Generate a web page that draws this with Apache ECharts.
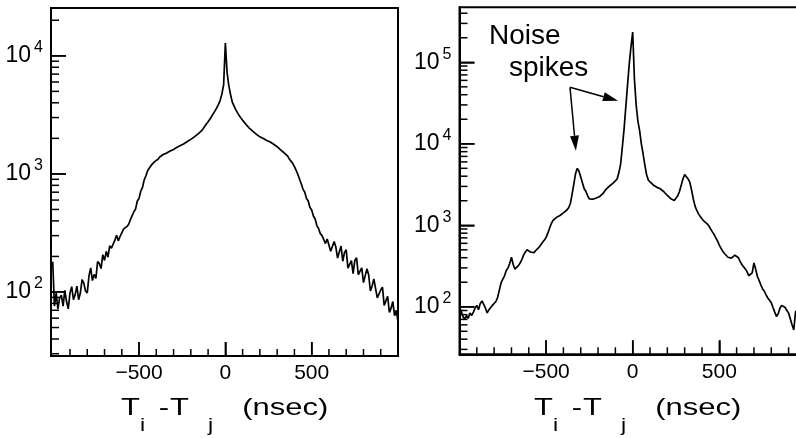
<!DOCTYPE html>
<html>
<head>
<meta charset="utf-8">
<script src="https://cdn.jsdelivr.net/npm/echarts@6/dist/echarts.min.js"></script>
<style>
  html, body { margin: 0; padding: 0; background: #fff; }
  #chart { width: 796px; height: 438px; }
  #err { position: absolute; left: 70px; top: 120px; font: 12px monospace; color: #c00; white-space: pre; }
</style>
</head>
<body>
<div id="chart"></div>
<div id="err"></div>
<script>
window.addEventListener('error', e => { document.getElementById('err').textContent += String(e.message) + '\n'; });

// Time-difference histogram bins: centres from -1000 ns in 10 ns steps
const BIN_START = -1000;
const BIN_WIDTH = 10;

// Left panel: coincidence counts per bin
const leftCounts = [
  180, 76, 98, 72, 89, 94, 76, 103, 83, 72,
  98, 111, 86, 95, 112, 86, 98, 127, 119, 102,
  98, 137, 160, 125, 141, 130, 181, 174, 158, 207,
  185, 221, 197, 246, 235, 231, 275, 302, 271, 295,
  295, 341, 328, 359, 375, 410, 425, 478, 505, 590,
  620, 715, 770, 890, 965, 1070, 1100, 1180, 1220, 1270,
  1300, 1330, 1390, 1440, 1460, 1470, 1500, 1550, 1560, 1570,
  1610, 1640, 1680, 1700, 1740, 1770, 1800, 1850, 1880, 1930,
  1960, 2000, 2060, 2110, 2170, 2220, 2300, 2400, 2520, 2640,
  2760, 2900, 3060, 3240, 3420, 3620, 3880, 4200, 4750, 5700,
  12800, 7200, 5600, 4700, 4050, 3760, 3500, 3300, 3120, 2980,
  2850, 2730, 2620, 2520, 2430, 2350, 2290, 2220, 2160, 2120,
  2060, 2020, 1990, 1950, 1920, 1900, 1860, 1830, 1780, 1740,
  1700, 1670, 1600, 1540, 1510, 1480, 1420, 1340, 1300, 1230,
  1150, 1070, 990, 900, 820, 740, 700, 620, 590, 520,
  495, 440, 415, 365, 345, 312, 300, 293, 257, 281,
  277, 221, 221, 267, 240, 194, 197, 245, 182, 216,
  228, 159, 171, 184, 143, 185, 195, 140, 143, 160,
  120, 119, 157, 140, 102, 112, 129, 131, 89, 90,
  104, 110, 77, 80, 92, 67, 73, 83, 63, 70,
  56
];

// Right panel: counts per bin, with the noise spikes
const rightCounts = [
  100, 88, 76, 70, 78, 72, 84, 78, 86, 96,
  104, 92, 110, 118, 112, 96, 84, 92, 98, 104,
  110, 116, 130, 160, 196, 218, 240, 278, 300, 340,
  405, 330, 290, 285, 320, 345, 380, 430, 470, 500,
  480, 470, 455, 462, 490, 510, 540, 570, 620, 660,
  710, 800, 920, 1050, 1150, 1200, 1250, 1280, 1320, 1370,
  1420, 1480, 1540, 1640, 1850, 2400, 3200, 4300, 5000, 4600,
  3900, 3300, 2800, 2600, 2300, 2100, 2080, 2090, 2120, 2160,
  2200, 2260, 2360, 2480, 2650, 2820, 2950, 3080, 3200, 3330,
  3450, 3700, 4400, 5600, 9000, 15000, 28000, 52000, 95000, 155000,
  235000, 62000, 30000, 19000, 14500, 10000, 7500, 5500, 4200, 3600,
  3400, 3250, 3100, 3000, 2920, 2850, 2800, 2700, 2580, 2450,
  2320, 2200, 2120, 2060, 2020, 2100, 2300, 2600, 3100, 3700,
  4200, 4000, 3700, 3350, 2700, 2100, 1720, 1520, 1380, 1280,
  1200, 1130, 1080, 1040, 980, 900, 830, 770, 700, 640,
  570, 520, 480, 450, 430, 405, 420, 395, 405, 430,
  440, 400, 360, 330, 310, 290, 270, 240, 230, 260,
  345, 290, 235, 210, 185, 165, 155, 140, 128, 120,
  112, 98, 86, 76, 82, 96, 104, 110, 98, 90,
  84, 80, 60, 52, 86, 92, 80, 88, 76, 82,
  78
];

// Axis ticks
const xMajorTicks = [-500, 0, 500];
const xMinorTicks = [-900, -800, -700, -600, -400, -300, -200, -100,
                     100, 200, 300, 400, 600, 700, 800, 900];
const leftDecades = [100, 1000, 10000];
const leftMinor = [30, 40, 50, 60, 70, 80, 90,
                   200, 300, 400, 500, 600, 700, 800, 900,
                   2000, 3000, 4000, 5000, 6000, 7000, 8000, 9000,
                   20000];
const rightDecades = [100, 1000, 10000, 100000];
const rightMinor = [30, 40, 50, 60, 70, 80, 90,
                    200, 300, 400, 500, 600, 700, 800, 900,
                    2000, 3000, 4000, 5000, 6000, 7000, 8000, 9000,
                    20000, 30000, 40000, 50000, 60000, 70000, 80000, 90000,
                    200000, 300000, 400000];

// Axis ranges
const leftX = [-1010, 1000], leftY = [28.7, 25400];
const rightX = [-1000, 1000], rightY = [26.1, 473000];

// "Noise spikes" arrows: shared tail, heads at the side spike and the central spike
const arrowTail = [-362, 49300];
const arrowHeads = [[-328, 8220], [-85, 33800]];

const FONT = "'Liberation Sans', Arial, Helvetica, sans-serif";
const TICK = { xMajor: 14, xMinor: 7, yMajor: 15, yMinor: 8 };

const bins = leftCounts.map((_, i) => BIN_START + i * BIN_WIDTH);
const leftData = bins.map((t, i) => [t, leftCounts[i]]);
const rightData = bins.map((t, i) => [t, rightCounts[i]]);

function xAxis(gridIndex, range) {
  return {
    type: 'value', gridIndex, min: range[0], max: range[1],
    axisLine: { show: true, onZero: false, lineStyle: { color: '#000', width: 2 } },
    splitLine: { show: false },
    axisTick: { show: true, inside: true, length: TICK.xMajor, customValues: xMajorTicks,
                lineStyle: { color: '#000', width: 1.5 } },
    axisLabel: { show: true, customValues: xMajorTicks, margin: 7,
                 color: '#000', fontSize: 21, fontFamily: FONT,
                 formatter: v => (v < 0 ? '\u2212' + (-v) : String(v)) }
  };
}

function yAxis(gridIndex, range, decades) {
  return {
    type: 'log', gridIndex, min: range[0], max: range[1],
    axisLine: { show: true, onZero: false, lineStyle: { color: '#000', width: 2 } },
    splitLine: { show: false },
    axisTick: { show: true, inside: true, length: TICK.yMajor, customValues: decades,
                lineStyle: { color: '#000', width: 1.5 } },
    axisLabel: {
      show: true, customValues: decades, margin: 8,
      formatter: v => '{b|10}{s|' + Math.round(Math.log10(v)) + '}',
      rich: {
        b: { fontSize: 23, fontFamily: FONT, color: '#000', lineHeight: 24 },
        s: { fontSize: 16, fontFamily: FONT, color: '#000', lineHeight: 16,
             padding: [0, 0, 16, 3] }
      }
    }
  };
}

// Inward tick marks, placed through the panel's own scales.
// Each item: [x, y, direction (1 = y-axis tick, 0 = x-axis tick), length]
function tickSeries(axisIndex, xr, yr, yMajor, yMinor) {
  const data = []
    .concat(yMajor.map(v => [xr[0], v, 1, TICK.yMajor]))
    .concat(yMinor.map(v => [xr[0], v, 1, TICK.yMinor]))
    .concat(xMajorTicks.map(v => [v, yr[0], 0, TICK.xMajor]))
    .concat(xMinorTicks.map(v => [v, yr[0], 0, TICK.xMinor]));
  return {
    type: 'custom', xAxisIndex: axisIndex, yAxisIndex: axisIndex,
    silent: true, clip: false, z: 10, data,
    encode: { x: 0, y: 1 },
    renderItem(params, api) {
      const p = api.coord([api.value(0), api.value(1)]);
      const len = api.value(3);
      const vertical = api.value(2) === 0;
      return {
        type: 'line',
        shape: vertical
          ? { x1: p[0], y1: p[1], x2: p[0], y2: p[1] - len }
          : { x1: p[0], y1: p[1], x2: p[0] + len, y2: p[1] },
        style: { stroke: '#000', lineWidth: 1.5 }
      };
    }
  };
}

// Annotation arrows: shaft plus a filled head, ends placed through the scales
const arrowSeries = {
  type: 'custom', xAxisIndex: 1, yAxisIndex: 1, silent: true, clip: false, z: 10,
  encode: { x: [0, 2], y: [1, 3] },
  data: arrowHeads.map(h => [arrowTail[0], arrowTail[1], h[0], h[1]]),
  renderItem(params, api) {
    const a = api.coord([api.value(0), api.value(1)]);
    const b = api.coord([api.value(2), api.value(3)]);
    const dx = b[0] - a[0], dy = b[1] - a[1];
    const L = Math.sqrt(dx * dx + dy * dy);
    const ux = dx / L, uy = dy / L;
    const headLen = 15, headHalf = 4.5;
    const bx = b[0] - ux * headLen, by = b[1] - uy * headLen;
    return {
      type: 'group',
      children: [
        { type: 'line', shape: { x1: a[0], y1: a[1], x2: bx, y2: by },
          style: { stroke: '#000', lineWidth: 1.5 } },
        { type: 'polygon',
          shape: { points: [[b[0], b[1]], [bx - uy * headHalf, by + ux * headHalf],
                            [bx + uy * headHalf, by - ux * headHalf]] },
          style: { fill: '#000' } }
      ]
    };
  }
};

// Axis title "T_i - T_j (nsec)" built from pieces, stretched horizontally
function axisTitle(x0) {
  const big = '24px ' + FONT, small = '18px ' + FONT;
  const piece = (text, x, y, font) => ({
    type: 'text', x, y,
    style: { text, font, fill: '#000', align: 'left', verticalAlign: 'middle' }
  });
  return {
    type: 'group', x: x0, y: 0, scaleX: 1.29, silent: true,
    children: [
      piece('T', 0, 408.5, big),
      piece('i', 14.7, 426, small),
      piece('-', 29.2, 408.5, big),
      piece('T', 38, 408.5, big),
      piece('j', 67.4, 426, small),
      piece('(nsec)', 94, 408.5, big)
    ]
  };
}

const gridStyle = {
  show: true, borderColor: '#000', borderWidth: 2,
  backgroundColor: 'transparent', containLabel: false, outerBoundsMode: 'none'
};

const labelText = { fontSize: 28, fontWeight: 'normal', fontFamily: FONT, color: '#000' };

const option = {
  animation: false,
  title: [
    { text: 'Noise', left: 489, top: 22.7, padding: 0, textStyle: labelText },
    { text: 'spikes', left: 509, top: 54.6, padding: 0, textStyle: labelText }
  ],
  grid: [
    Object.assign({ left: 51, top: 8, width: 347, height: 348 }, gridStyle),
    Object.assign({ left: 459.5, top: 7.3, width: 346.4, height: 347 }, gridStyle)
  ],
  xAxis: [xAxis(0, leftX), xAxis(1, rightX)],
  yAxis: [yAxis(0, leftY, leftDecades), yAxis(1, rightY, rightDecades)],
  series: [
    tickSeries(0, leftX, leftY, leftDecades, leftMinor),
    tickSeries(1, rightX, rightY, rightDecades, rightMinor),
    {
      type: 'line', xAxisIndex: 0, yAxisIndex: 0, data: leftData,
      showSymbol: false, silent: true,
      lineStyle: { color: '#000', width: 1.7 }
    },
    {
      type: 'line', xAxisIndex: 1, yAxisIndex: 1, data: rightData,
      showSymbol: false, silent: true,
      lineStyle: { color: '#000', width: 1.7 }
    },
    arrowSeries
  ],
  graphic: [axisTitle(121), axisTitle(534)]
};

const chart = echarts.init(document.getElementById('chart'), null, { renderer: 'canvas' });
try {
  chart.setOption(option);
} catch (e) {
  document.getElementById('err').textContent += String(e && e.stack || e) + '\n';
}
</script>
</body>
</html>
